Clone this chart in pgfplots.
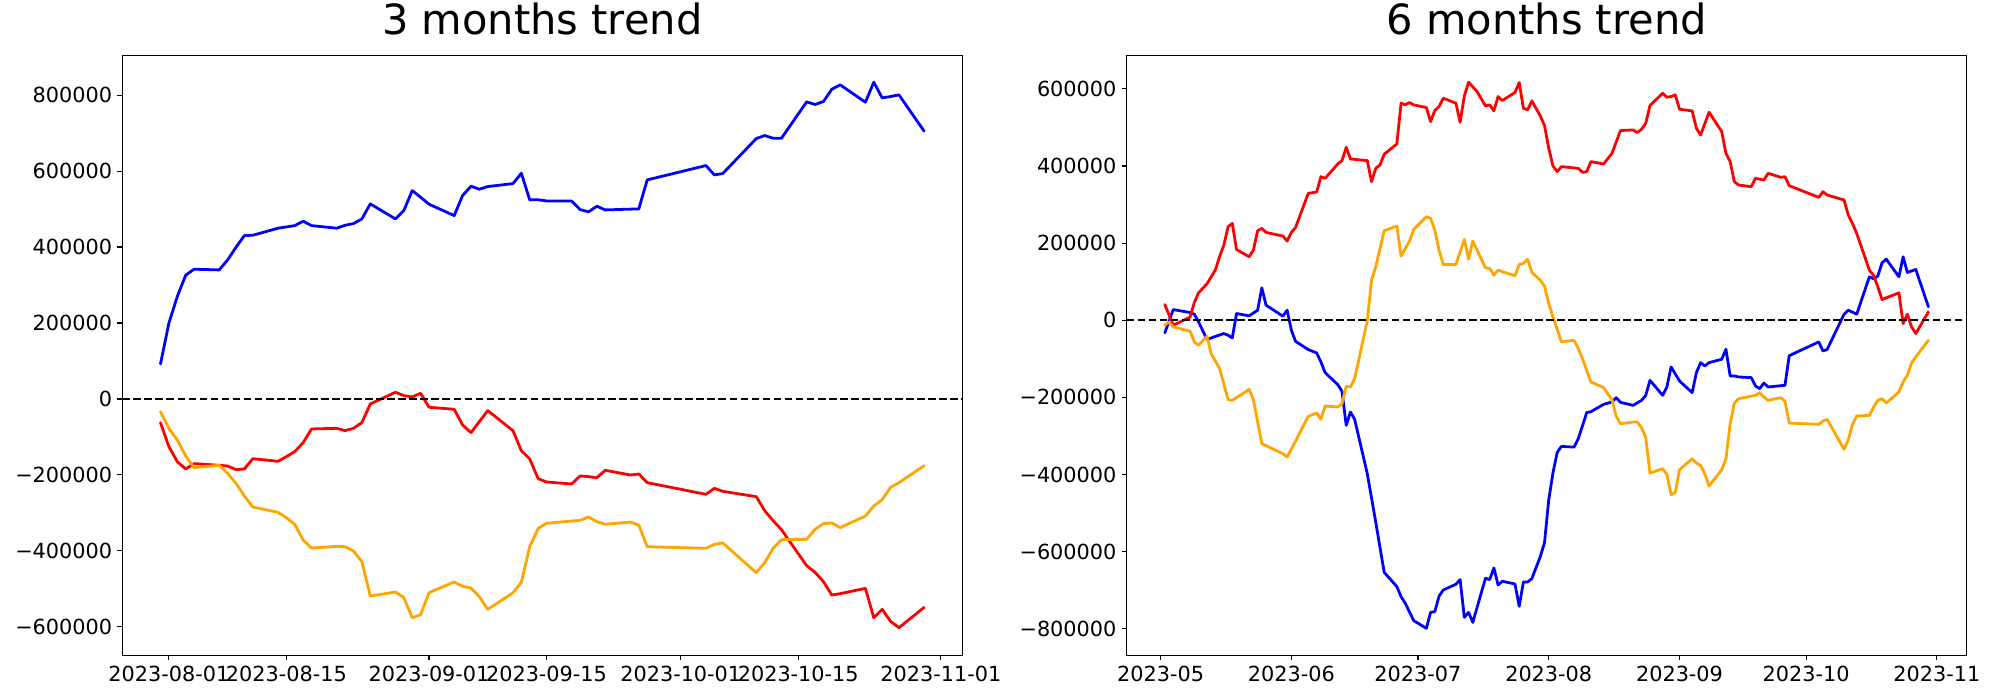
\documentclass[border=0pt]{standalone}
\usepackage{fontspec}
\setmainfont{DejaVu Sans}
\usepackage{pgfplots}
\pgfplotsset{compat=1.18}
\definecolor{mplorange}{RGB}{255,165,0}
\pgfplotsset{
  trend/.style={
    scale only axis, width=420pt, height=300pt,
    anchor=south west,
    axis line style={line width=0.56pt},
    every tick/.style={line width=0.56pt, black},
    tick align=outside, major tick length=2.45pt,
    xtick pos=bottom, ytick pos=left,
    scaled y ticks=false, scaled x ticks=false,
    ticklabel style={font=\fontsize{10.4}{12}\selectfont, inner sep=0pt},
    xticklabel style={anchor=north, yshift=-2.9pt},
    yticklabel style={anchor=east, xshift=-2.45pt},
    title style={font=\fontsize{20.8}{24}\selectfont, at={(0.5,1)}, anchor=base, yshift=4.2pt, inner sep=0pt},
    clip=true,
  },
  dl/.style={line width=1.39pt, line join=round, line cap=round},
  zero/.style={black, line width=1.04pt, dash pattern=on 3.85pt off 1.67pt},
}
\begin{document}
\begin{tikzpicture}
\path[use as bounding box] (0,0) rectangle (1000pt,350pt);
% ---------------- 3 months ----------------
\begin{axis}[trend, at={(61.15pt,22.35pt)},
  title={3 months trend},
  xmin=-5.55, xmax=94.55, ymin=-675000, ymax=905000,
  xtick={0,14,31,45,61,75,92},
  xticklabels={2023-08-01,2023-08-15,2023-09-01,2023-09-15,2023-10-01,2023-10-15,2023-11-01},
  ytick={-600000,-400000,-200000,0,200000,400000,600000,800000},
  yticklabels={−600000,−400000,−200000,0,200000,400000,600000,800000},
]
\addplot[dl, blue] coordinates {
(-1,92190) (0,199400) (1,269500) (2,325800) (3,341600) (6,339800) (7,366100) (8,399500) (9,430200) (10,431100)
(13,449600) (14,453000) (15,456500) (16,468000) (17,456500) (20,449600) (21,457400) (22,461800) (23,474100) (24,513600)
(27,474100) (28,496000) (29,548700) (30,531200) (31,512800) (34,482800) (35,535600) (36,560200) (37,552300) (38,559300)
(41,567000) (42,594400) (43,524200) (44,524500) (45,521500) (48,521100) (49,498700) (50,492600) (51,507500) (52,497800)
(56,500500) (57,576800) (64,614600) (65,590000) (66,593500) (70,685700) (71,693600) (72,686600) (73,686600)
(76,782300) (77,775300) (78,783200) (79,815600) (80,827100) (83,781400) (84,834100) (85,792800) (86,796300) (87,800700) (90,705100)
};
\addplot[dl, red] coordinates {
(-1,-62300) (0,-125600) (1,-165100) (2,-184400) (3,-170300) (6,-174700) (7,-176500) (8,-186100) (9,-184400) (10,-157200)
(13,-164200) (14,-151900) (15,-138700) (16,-115000) (17,-79000) (20,-77300) (21,-83400) (22,-77300) (23,-62300) (24,-13200)
(27,17600) (28,8800) (29,5300) (30,14900) (31,-21900) (34,-27200) (35,-68500) (36,-88700) (37,-59700) (38,-30700)
(41,-83400) (42,-136100) (43,-158000) (44,-209800) (45,-218600) (48,-223900) (49,-202800) (50,-204600) (51,-207200) (52,-187900)
(55,-200200) (56,-197600) (57,-220400) (64,-251100) (65,-235300) (66,-243200) (70,-257300) (71,-294100) (72,-320500) (73,-344200)
(76,-439000) (77,-456600) (78,-481100) (79,-516300) (80,-512700) (83,-498700) (84,-576000) (85,-554000) (86,-585600) (87,-602300) (90,-548800)
};
\addplot[dl, mplorange] coordinates {
(-1,-33400) (0,-77300) (1,-108000) (2,-150100) (3,-180900) (6,-174700) (7,-195800) (8,-222100) (9,-255500) (10,-284500)
(13,-298500) (14,-312600) (15,-330100) (16,-371400) (17,-392500) (20,-388100) (21,-389000) (22,-400400) (23,-428500) (24,-518900)
(27,-508400) (28,-523300) (29,-576000) (30,-568100) (31,-510100) (34,-482000) (35,-493400) (36,-497800) (37,-520700) (38,-554000)
(41,-510500) (42,-482900) (43,-389000) (44,-340700) (45,-327500) (48,-321400) (49,-319600) (50,-310800) (51,-323100) (52,-330100)
(55,-324000) (56,-332800) (57,-389000) (64,-393400) (65,-382800) (66,-379300) (70,-457400) (71,-431100) (72,-393400) (73,-370500)
(76,-369600) (77,-343300) (78,-328400) (79,-326600) (80,-338900) (83,-308200) (84,-281800) (85,-265100) (86,-232700) (87,-220400) (90,-175600)
};
\addplot[zero] coordinates {(-5.55,0) (94.55,0)};
\end{axis}
% ---------------- 6 months ----------------
\begin{axis}[trend, at={(563.3pt,22.35pt)},
  title={6 months trend},
  xmin=-8.05, xmax=191.05, ymin=-869000, ymax=687000,
  xtick={0,31,61,92,123,153,184},
  xticklabels={2023-05,2023-06,2023-07,2023-08,2023-09,2023-10,2023-11},
  ytick={-800000,-600000,-400000,-200000,0,200000,400000,600000},
  yticklabels={−800000,−600000,−400000,−200000,0,200000,400000,600000},
]
\addplot[dl, blue] coordinates {
(1,-32900) (3,27700) (7,19900) (8,15600) (9,-4300) (11,-50200) (13,-42000) (15,-34600) (16,-39000) (17,-45900) (18,17300)
(21,11300) (23,26000) (24,84000) (25,39000) (29,10400) (30,26000) (31,-26000) (32,-55000) (35,-76200) (37,-84900)
(38,-108200) (39,-135900) (42,-167100) (43,-184400) (44,-272700) (45,-238100) (46,-257100) (49,-398300) (51,-523800)
(53,-653700) (56,-690900) (57,-716900) (58,-734200) (60,-779200) (63,-799100) (64,-757600) (65,-755800) (66,-716000)
(67,-699600) (70,-684800) (71,-672700) (72,-770600) (73,-757600) (74,-783600) (77,-669300) (78,-672700) (79,-642400)
(80,-686600) (81,-677100) (84,-684000) (85,-742000) (86,-678800) (87,-678800) (88,-670100) (90,-613000) (91,-577000)
(92,-466000) (93,-396000) (94,-343000) (95,-327300) (98,-329000) (99,-307400) (101,-239800) (102,-237200) (105,-218200)
(107,-212100) (108,-200900) (109,-213000) (112,-220800) (114,-207800) (115,-194800) (116,-155800) (119,-194800)
(120,-173200) (121,-121200) (123,-157600) (126,-187900) (127,-135900) (128,-110000) (129,-118600) (130,-110000)
(133,-101300) (134,-75300) (135,-144600) (136,-144600) (137,-147200) (140,-148900) (141,-170600) (142,-177500)
(143,-162800) (144,-173200) (148,-168800) (149,-92000) (156,-56300) (157,-79700) (158,-75800) (162,15600) (163,26000)
(165,15600) (168,112600) (169,107400) (170,114300) (171,148900) (172,158400) (175,112600) (176,164500) (177,123800)
(179,131600) (182,34600)
};
\addplot[dl, red] coordinates {
(1,40700) (3,-13000) (7,8000) (8,45900) (9,71000) (11,94400) (13,130700) (14,165400) (15,194800) (16,242400) (17,251100)
(18,183500) (21,164500) (22,181800) (23,232000) (24,238100) (25,227700) (29,218200) (30,205200) (31,227700) (32,240700)
(35,329000) (37,332500) (38,372300) (39,368000) (42,405200) (43,413900) (44,448500) (45,418200) (49,413900) (50,359300)
(51,393900) (52,402600) (53,430300) (56,457100) (57,562800) (58,558400) (59,564500) (60,558400) (63,551500) (64,515200)
(65,543700) (66,554100) (67,575700) (70,562800) (71,513400) (72,581800) (73,617300) (75,593100) (77,555800) (78,558400)
(79,542900) (80,580100) (81,569700) (84,590500) (85,616400) (86,549800) (87,545500) (88,568800) (90,529900) (91,505000)
(92,445900) (93,400000) (94,385300) (95,398300) (99,393900) (100,383600) (101,385300) (102,411300) (105,405200)
(107,432900) (109,491800) (112,493500) (113,486600) (114,495200) (115,510800) (116,556700) (119,588700) (120,578300)
(121,580100) (122,584400) (123,547200) (126,542900) (127,497800) (128,480500) (130,539400) (133,489200) (134,432900)
(135,411300) (136,359300) (137,350600) (140,346300) (141,368000) (143,363600) (144,380900) (147,370600) (148,372300)
(149,348900) (156,318600) (157,333300) (158,324700) (162,311700) (163,272700) (164,251100) (165,225100) (168,129900)
(169,116000) (170,86600) (171,53700) (175,71000) (176,-8700) (177,15600) (178,-17300) (179,-34600) (182,21600)
};
\addplot[dl, mplorange] coordinates {
(1,-13000) (2,-4300) (3,-17300) (7,-28600) (8,-56300) (9,-64900) (11,-41600) (12,-86600) (14,-125500) (16,-206100)
(17,-207800) (21,-179200) (22,-206100) (24,-320300) (29,-346300) (30,-355000) (32,-313400) (35,-249400) (37,-240700)
(38,-257100) (39,-222500) (42,-225100) (43,-216400) (44,-171400) (45,-173200) (46,-151500) (48,-51900) (49,0)
(50,103900) (51,138500) (53,232000) (56,244200) (57,166200) (59,205200) (60,235500) (63,268400) (64,264100) (65,233800)
(66,181800) (67,144600) (70,144600) (72,209500) (73,158400) (74,205200) (77,135900) (78,134200) (79,116900) (80,129900)
(81,126000) (84,115100) (85,144600) (86,147200) (87,158400) (88,123800) (90,103900) (91,88300) (92,43300) (93,8700)
(95,-56300) (98,-51900) (99,-73600) (100,-99600) (102,-160200) (105,-174900) (107,-206100) (108,-249400) (109,-268400)
(112,-264100) (113,-264100) (114,-278800) (115,-304800) (116,-396500) (119,-385300) (120,-400000) (121,-452800)
(122,-445900) (123,-387900) (126,-359300) (127,-370600) (128,-376600) (129,-398300) (130,-430300) (133,-387900)
(134,-359300) (135,-268400) (136,-214700) (137,-203500) (141,-194800) (142,-187900) (143,-199100) (144,-207800)
(147,-200900) (148,-210400) (149,-266700) (156,-270100) (157,-261500) (158,-257100) (162,-335100) (163,-310000)
(164,-270100) (165,-248500) (168,-246800) (169,-225100) (170,-207800) (171,-203500) (172,-214700) (175,-186200)
(176,-160200) (177,-142900) (178,-110800) (179,-95200) (182,-51900)
};
\addplot[zero] coordinates {(-8.05,0) (191.05,0)};
\end{axis}
\end{tikzpicture}
\end{document}
